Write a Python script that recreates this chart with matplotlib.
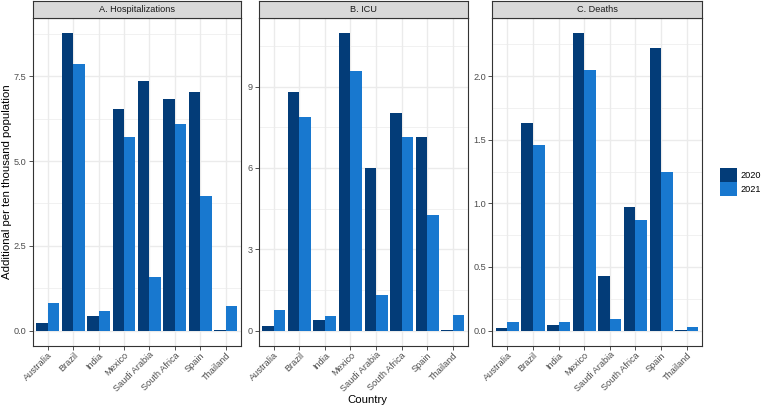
import matplotlib
matplotlib.use("Agg")
import matplotlib.pyplot as plt
import numpy as np
from matplotlib.patches import Patch

plt.rcParams['font.family'] = ['Liberation Sans', 'DejaVu Sans']

countries = ["Australia", "Brazil", "India", "Mexico", "Saudi Arabia",
             "South Africa", "Spain", "Thailand"]
years = ["2020", "2021"]
panels = ["A. Hospitalizations", "B. ICU", "C. Deaths"]

hosp_2020 = [0.22, 8.78, 0.43, 6.54, 7.36, 6.84, 7.04, 0.02]
hosp_2021 = [0.81, 7.86, 0.59, 5.72, 1.59, 6.09, 3.96, 0.73]
icu_2020 = [0.18, 8.79, 0.40, 10.98, 5.99, 8.01, 7.14, 0.02]
icu_2021 = [0.76, 7.88, 0.55, 9.58, 1.30, 7.14, 4.25, 0.57]
death_2020 = [0.02, 1.63, 0.047, 2.34, 0.43, 0.97, 2.22, 0.004]
death_2021 = [0.07, 1.46, 0.066, 2.05, 0.09, 0.87, 1.25, 0.03]

y_ticks = [[0, 2.5, 5.0, 7.5], [0, 3, 6, 9], [0, 0.5, 1.0, 1.5, 2.0]]
y_ticklabels = [["0.0", "2.5", "5.0", "7.5"], ["0", "3", "6", "9"],
                ["0.0", "0.5", "1.0", "1.5", "2.0"]]

data = [(hosp_2020, hosp_2021), (icu_2020, icu_2021), (death_2020, death_2021)]
colors = ["#033c78", "#1878cf"]

W, H = 763, 408
fig = plt.figure(figsize=(W / 100, H / 100), dpi=100)

panel_x = [(32.5, 241), (258.5, 468), (492, 702)]
p_top, p_bot = 18, 345.5
strip_top = 1

tick_fs = 6.6
grey20 = "#333333"
grey30 = "#4d4d4d"

for i, (x0, x1) in enumerate(panel_x):
    ax = fig.add_axes([x0 / W, (H - p_bot) / H, (x1 - x0) / W, (p_bot - p_top) / H])
    d20, d21 = data[i]
    x = np.arange(len(countries))
    ax.bar(x - 0.225, d20, width=0.45, color=colors[0], zorder=3, linewidth=0)
    ax.bar(x + 0.225, d21, width=0.45, color=colors[1], zorder=3, linewidth=0)
    ymax = max(max(d20), max(d21))
    ax.set_xlim(-0.6, len(countries) - 1 + 0.6)
    ax.set_ylim(-0.05 * ymax, ymax * 1.05)
    ticks = y_ticks[i]
    step = ticks[1] - ticks[0]
    minor = [t + step / 2 for t in ticks]
    minor = [m for m in minor if m < ymax * 1.05]
    ax.set_yticks(ticks)
    ax.set_yticklabels(y_ticklabels[i])
    ax.set_yticks(minor, minor=True)
    ax.set_xticks(x)
    ax.set_xticklabels(countries, rotation=45, ha='right', va='top',
                       rotation_mode='anchor')
    ax.tick_params(axis='both', which='major', length=2.8, width=0.6,
                   color=grey20, labelsize=tick_fs, labelcolor=grey30, pad=1.5)
    ax.tick_params(axis='x', which='major', pad=0.8)
    ax.tick_params(axis='y', which='minor', length=0)
    ax.grid(which='major', color='#ebebeb', linewidth=1.0, zorder=0)
    ax.grid(which='minor', axis='y', color='#ebebeb', linewidth=0.5, zorder=0)
    ax.set_axisbelow(True)
    for s in ax.spines.values():
        s.set_color(grey20)
        s.set_linewidth(0.8)
    # strip
    sax = fig.add_axes([x0 / W, (H - p_top) / H, (x1 - x0) / W, (p_top - strip_top) / H])
    sax.set_facecolor("#d9d9d9")
    sax.set_xticks([])
    sax.set_yticks([])
    for s in sax.spines.values():
        s.set_color(grey20)
        s.set_linewidth(0.8)
    sax.text(0.5, 0.5, panels[i], ha='center', va='center', fontsize=tick_fs,
             color="#1a1a1a", transform=sax.transAxes)
    if i == 2:
        handles = [Patch(facecolor=colors[0], label=years[0]),
                   Patch(facecolor=colors[1], label=years[1])]
        fig.legend(handles=handles, loc='center left',
                   bbox_to_anchor=(720 / W, (H - 182) / H), frameon=False,
                   fontsize=tick_fs, handlelength=1.8, handleheight=1.9,
                   labelspacing=0.0, handletextpad=0.45, borderpad=0,
                   borderaxespad=0)

fig.text(367 / W, (H - 400) / H, "Country", ha='center', va='center',
         fontsize=8.2, color='black')
fig.text(7.5 / W, (H - 182) / H, "Additional per ten thousand population",
         ha='center', va='center', rotation=90, fontsize=8.2, color='black')

fig.savefig("out.png", dpi=100)
